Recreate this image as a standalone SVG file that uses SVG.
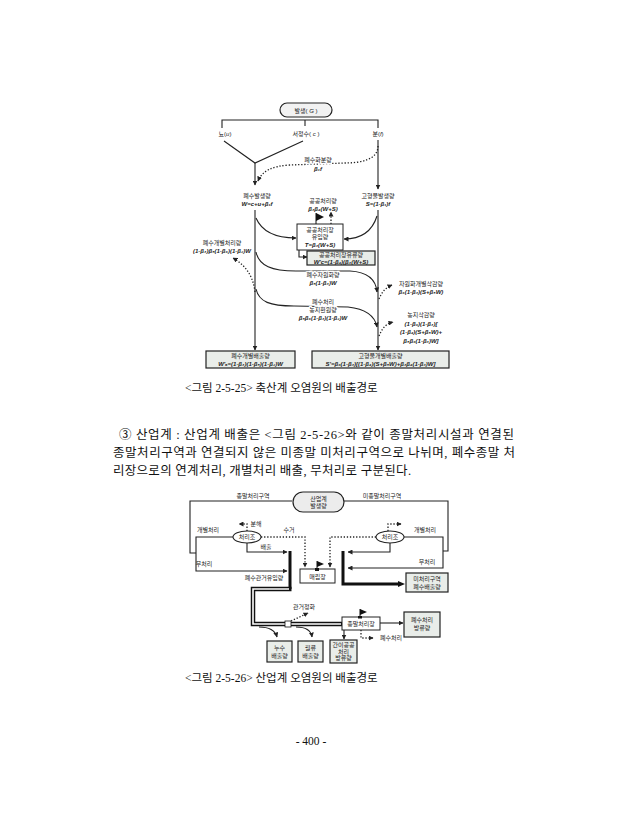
<svg xmlns="http://www.w3.org/2000/svg" width="618" height="840" viewBox="0 0 618 840">
<style>
.t{font-family:"Liberation Sans","Noto Sans CJK KR",sans-serif;font-size:6px;fill:#222;text-anchor:middle}
.f{font-family:"Liberation Sans","DejaVu Sans","Noto Sans CJK KR",sans-serif;font-size:6px;font-style:italic;font-weight:bold;fill:#222;text-anchor:middle}
.h{stroke:#fff;stroke-width:2.5px;paint-order:stroke;stroke-linejoin:round}
.body{font-family:"Liberation Serif","Noto Sans CJK KR",serif;font-size:12.5px;fill:#111}
.cap{font-family:"Liberation Serif","Noto Sans CJK KR",serif;font-size:11.5px;fill:#111}
.ln{fill:none;stroke:#222;stroke-width:1.1}
.dt{fill:none;stroke:#222;stroke-width:1.3;stroke-dasharray:1.3 1.8}
.box{fill:#fff;stroke:#222;stroke-width:1}
.gbox{fill:#e9ede9;stroke:#222;stroke-width:1.2}
</style>
<defs>
<marker id="ah" viewBox="0 0 10 10" refX="9" refY="5" markerWidth="5" markerHeight="5" markerUnits="userSpaceOnUse" orient="auto"><path d="M0,0L10,5L0,10z" fill="#222"/></marker>
</defs>
<rect width="618" height="840" fill="#fff"/>

<!-- ===== Diagram 1 ===== -->
<g id="d1-connectors">
<path class="ln" d="M222,128 V120 H378 V128"/>
<path class="ln" d="M305,120 V126"/>
<path class="ln" d="M224,141 L255,163 L303,141"/>
<path class="ln" d="M255,163 V185" marker-end="url(#ah)"/>
<path class="ln" d="M378,140 V189" marker-end="url(#ah)"/>
<path class="dt" d="M378,146 C378,160 360,163 345,163 L290,165 C272,166 262,171 258,181" marker-end="url(#ah)"/>
<path class="ln" d="M255,210 V350" marker-end="url(#ah)"/>
<path class="ln" d="M378,210 V350" marker-end="url(#ah)"/>
<path class="ln" d="M256,218 C262,232 276,238 296,238" marker-end="url(#ah)"/>
<path class="ln" d="M377,216 C372,232 360,239 344,239" marker-end="url(#ah)"/>
<path class="ln" d="M299,250 V257 H307" marker-end="url(#ah)"/>
<path class="dt" d="M331,224 V212" marker-end="url(#ah)"/>
<path class="dt" d="M255,292 C253,275 245,265 233,258" marker-end="url(#ah)"/>
<path class="ln" d="M256,252 C259,266 272,271 296,271 L350,271 C368,272 376,280 377,292" marker-end="url(#ah)"/>
<path class="ln" d="M256,289 C259,302 270,306 294,306 L348,307 C366,309 375,316 377,327" marker-end="url(#ah)"/>
<path class="dt" d="M379,299 C382,292 385,288 392,285" marker-end="url(#ah)"/>
<path class="dt" d="M379,336 C382,329 385,324 393,322" marker-end="url(#ah)"/>
</g>
<g id="d1-G">
<rect x="280" y="103" width="52" height="14" rx="7" fill="#f2f2f2" stroke="#222" stroke-width="1.2"/>
<text class="t" x="306" y="112.5" font-size="6.5">발생( <tspan font-style="italic">G</tspan> )</text>
</g>
<g id="d1-u"><text class="t" x="225" y="135.5" font-size="6.5">뇨(<tspan font-style="italic">u</tspan>)</text></g>
<g id="d1-c"><text class="t" x="306" y="135.5" font-size="6.5">서정수( <tspan font-style="italic">c</tspan> )</text></g>
<g id="d1-f"><text class="t" x="378" y="135.5" font-size="6.5">분(<tspan font-style="italic">f</tspan>)</text></g>
<g id="d1-manure-water"><text class="t h" x="318" y="162">폐수화분량</text><text class="f h" x="318" y="171">β₁f</text></g>
<g id="d1-W"><text class="t" x="257" y="198">폐수발생량</text><text class="f" x="257" y="205.5">W=c+u+β₁f</text></g>
<g id="d1-S"><text class="t" x="378" y="198">고형물발생량</text><text class="f" x="378" y="205.5">S=(1-β₁)f</text></g>
<g id="d1-public"><text class="t" x="323" y="203">공공처리량</text><text class="f" x="323" y="210.5">β₃β₄(W+S)</text></g>
<g id="d1-T">
<rect class="box" x="297" y="224" width="46" height="26"/>
<path d="M316,224 V213" stroke="#111" stroke-width="1"/><path d="M316,213 L324,217 L316,221z" fill="#111"/>
<text class="t" x="320" y="231.5">공공처리장</text><text class="t" x="320" y="239">유입량</text><text class="f" x="320" y="247">T=β₃(W+S)</text>
</g>
<g id="d1-Wc">
<rect class="gbox" x="307" y="251" width="68" height="14"/>
<text class="t" x="341" y="257">공공처리장유류량</text><text class="f" x="341" y="263.5">W'c=(1-β₄)(β₃(W+S)</text>
</g>
<g id="d1-indiv"><text class="t" x="222" y="245">폐수개별처리량</text><text class="f" x="222" y="253">(1-β₃)β₅(1-β₆)(1-β₂)W</text></g>
<g id="d1-reuse"><text class="t h" x="323" y="277">폐수자원화량</text><text class="f h" x="323" y="285">β₅(1-β₃)W</text></g>
<g id="d1-reuse-cut"><text class="t" x="421" y="286">자원화개별삭감량</text><text class="f" x="421" y="294">β₆(1-β₃)(S+β₅W)</text></g>
<g id="d1-land"><text class="t h" x="323" y="304">폐수처리</text><text class="t h" x="323" y="312">농지환원량</text><text class="f h" x="323" y="320">β₅β₆(1-β₃)(1-β₂)W</text></g>
<g id="d1-land-cut"><text class="t" x="421" y="317">농지삭감량</text><text class="f" x="421" y="325.5">(1-β₆)(1-β₃)[</text><text class="f" x="421" y="334">(1-β₄)(S+β₅W)+</text><text class="f" x="421" y="342.5">β₅β₆(1-β₃)W]</text></g>
<g id="d1-Wa">
<rect class="gbox" x="206" y="351" width="89" height="17"/>
<text class="t" x="250.5" y="358">폐수개별배출량</text><text class="f" x="250.5" y="365.5">W'ₐ=(1-β₃)(1-β₅)(1-β₂)W</text>
</g>
<g id="d1-Sa">
<rect class="gbox" x="312" y="351" width="137" height="17"/>
<text class="t" x="380.5" y="358">고형물개별배출량</text><text class="f" x="380.5" y="365.5">S'=β₆(1-β₃)[(1-β₄)(S+β₅W)+β₃β₄(1-β₃)W]</text>
</g>
<text class="cap" x="185" y="392">&lt;그림 2-5-25&gt; 축산계 오염원의 배출경로</text>

<!-- ===== Paragraph ===== -->
<text class="body" x="119" y="439" textLength="395" lengthAdjust="spacing">③ 산업계 : 산업계 배출은 &lt;그림 2-5-26&gt;와 같이 종말처리시설과 연결된</text>
<text class="body" x="113" y="457" textLength="402" lengthAdjust="spacing">종말처리구역과 연결되지 않은 미종말 미처리구역으로 나뉘며, 폐수종말 처</text>
<text class="body" x="113" y="475" textLength="298" lengthAdjust="spacing">리장으로의 연계처리, 개별처리 배출, 무처리로 구분된다.</text>

<!-- ===== Diagram 2 ===== -->
<g id="d2-connectors">
<path class="ln" d="M292,501 H190 V553 H196"/>
<path class="ln" d="M233,537 H196 V571 H287" marker-end="url(#ah)"/>
<path class="ln" d="M247,543 V552 H287" marker-end="url(#ah)"/>
<path class="dt" d="M247,531 V524 H239" marker-end="url(#ah)"/>
<path class="dt" d="M261,537 H305 V567" marker-end="url(#ah)"/>
<path class="dt" d="M376,537 H330 V567" marker-end="url(#ah)"/>
<path class="dt" d="M388,531 V524 H401" marker-end="url(#ah)"/>
<path class="ln" d="M344,501 H448 V551 H443"/>
<path class="ln" d="M404,537 H443 V568 H348" marker-end="url(#ah)"/>
<path class="ln" d="M390,543 V552 H348" marker-end="url(#ah)"/>
<path fill="none" stroke="#111" stroke-width="3" d="M290,551 V589"/>
<path fill="none" stroke="#111" stroke-width="3" d="M343,551 V584 H400"/>
<path d="M398,581 L405,584 L398,587z" fill="#111"/>
<path fill="none" stroke="#111" stroke-width="4.5" stroke-linejoin="miter" d="M291.5,589 H253 V624 H342"/>
<path fill="none" stroke="#fff" stroke-width="1.6" stroke-linejoin="miter" d="M289,589 H253 V624 H341"/>
<rect x="285" y="621" width="6" height="6" fill="#fff" stroke="#111" stroke-width="0.8"/>
<path class="dt" d="M291,621 L308,613" marker-end="url(#ah)"/>
<path class="ln" d="M259,627 C268,627 275,630 277,637" marker-end="url(#ah)"/>
<path class="ln" d="M296,627 C305,627 311,630 312,637" marker-end="url(#ah)"/>
<path class="ln" d="M380,623 H403" marker-end="url(#ah)"/>
<path class="ln" d="M344,630 V639" marker-end="url(#ah)"/>
<path class="dt" d="M361,630 V638 H373" marker-end="url(#ah)"/>
</g>
<g id="d2-source">
<rect x="293" y="492" width="51" height="20" rx="10" fill="#ececec" stroke="#222" stroke-width="1.2"/>
<text class="t" x="318.5" y="500.5">산업계</text><text class="t" x="318.5" y="507.5">발생량</text>
</g>
<text class="t" x="253" y="498">종말처리구역</text>
<text class="t" x="382" y="498">미종말처리구역</text>
<g id="d2-tankL"><ellipse cx="247" cy="537" rx="14" ry="6" fill="#fff" stroke="#222" stroke-width="1.1"/><text class="t" x="247" y="539">처리조</text></g>
<g id="d2-tankR"><ellipse cx="390" cy="537" rx="14" ry="6" fill="#fff" stroke="#222" stroke-width="1.1"/><text class="t" x="390" y="539">처리조</text></g>
<text class="t" x="208" y="532">개별처리</text>
<text class="t" x="204" y="566">무처리</text>
<text class="t" x="256" y="526">분해</text>
<text class="t" x="289" y="532">수거</text>
<text class="t" x="266" y="549">배출</text>
<text class="t" x="425" y="532">개별처리</text>
<text class="t" x="427" y="564">무처리</text>
<text class="t" x="264" y="580">폐수관거유입량</text>
<text class="t" x="304" y="609">관거정화</text>
<text class="t" x="391" y="640">폐수처리</text>
<g id="d2-landfill">
<rect class="box" x="300" y="569" width="35" height="14"/>
<path d="M317,570 V561" stroke="#111" stroke-width="1"/><path d="M317,561 L324,564 L317,567z" fill="#111"/>
<rect x="315" y="568" width="4" height="3" fill="#111"/>
<text class="t" x="317.5" y="578.5">매립장</text>
</g>
<g id="d2-untreated">
<rect class="gbox" x="406" y="573" width="42" height="19"/>
<text class="t" x="427" y="580.5">미처리구역</text><text class="t" x="427" y="588.5">폐수배출량</text>
</g>
<g id="d2-plant">
<rect class="box" x="342" y="617" width="38" height="13"/>
<path d="M360,617 V609" stroke="#111" stroke-width="1"/><path d="M360,609 L367,612 L360,615z" fill="#111"/>
<rect x="358" y="616" width="4" height="2.5" fill="#111"/>
<text class="t" x="361" y="626">종말처리장</text>
</g>
<g id="d2-discharge">
<rect class="gbox" x="404" y="612" width="36" height="25"/>
<text class="t" x="422" y="622">폐수처리</text><text class="t" x="422" y="630">방류량</text>
</g>
<g id="d2-leak">
<rect class="gbox" x="267" y="641" width="25" height="21"/>
<text class="t" x="279.5" y="650">누수</text><text class="t" x="279.5" y="657.5">배출량</text>
</g>
<g id="d2-overflow">
<rect class="gbox" x="298" y="641" width="25" height="21"/>
<text class="t" x="310.5" y="650">월류</text><text class="t" x="310.5" y="657.5">배출량</text>
</g>
<g id="d2-simple">
<rect class="gbox" x="330" y="640" width="27" height="23"/>
<text class="t" x="343.5" y="647">간이공공</text><text class="t" x="343.5" y="653.5">처리</text><text class="t" x="343.5" y="660">방류량</text>
</g>
<text class="cap" x="185" y="682">&lt;그림 2-5-26&gt; 산업계 오염원의 배출경로</text>

<text class="cap" x="311" y="745" text-anchor="middle">- 400 -</text>
</svg>
